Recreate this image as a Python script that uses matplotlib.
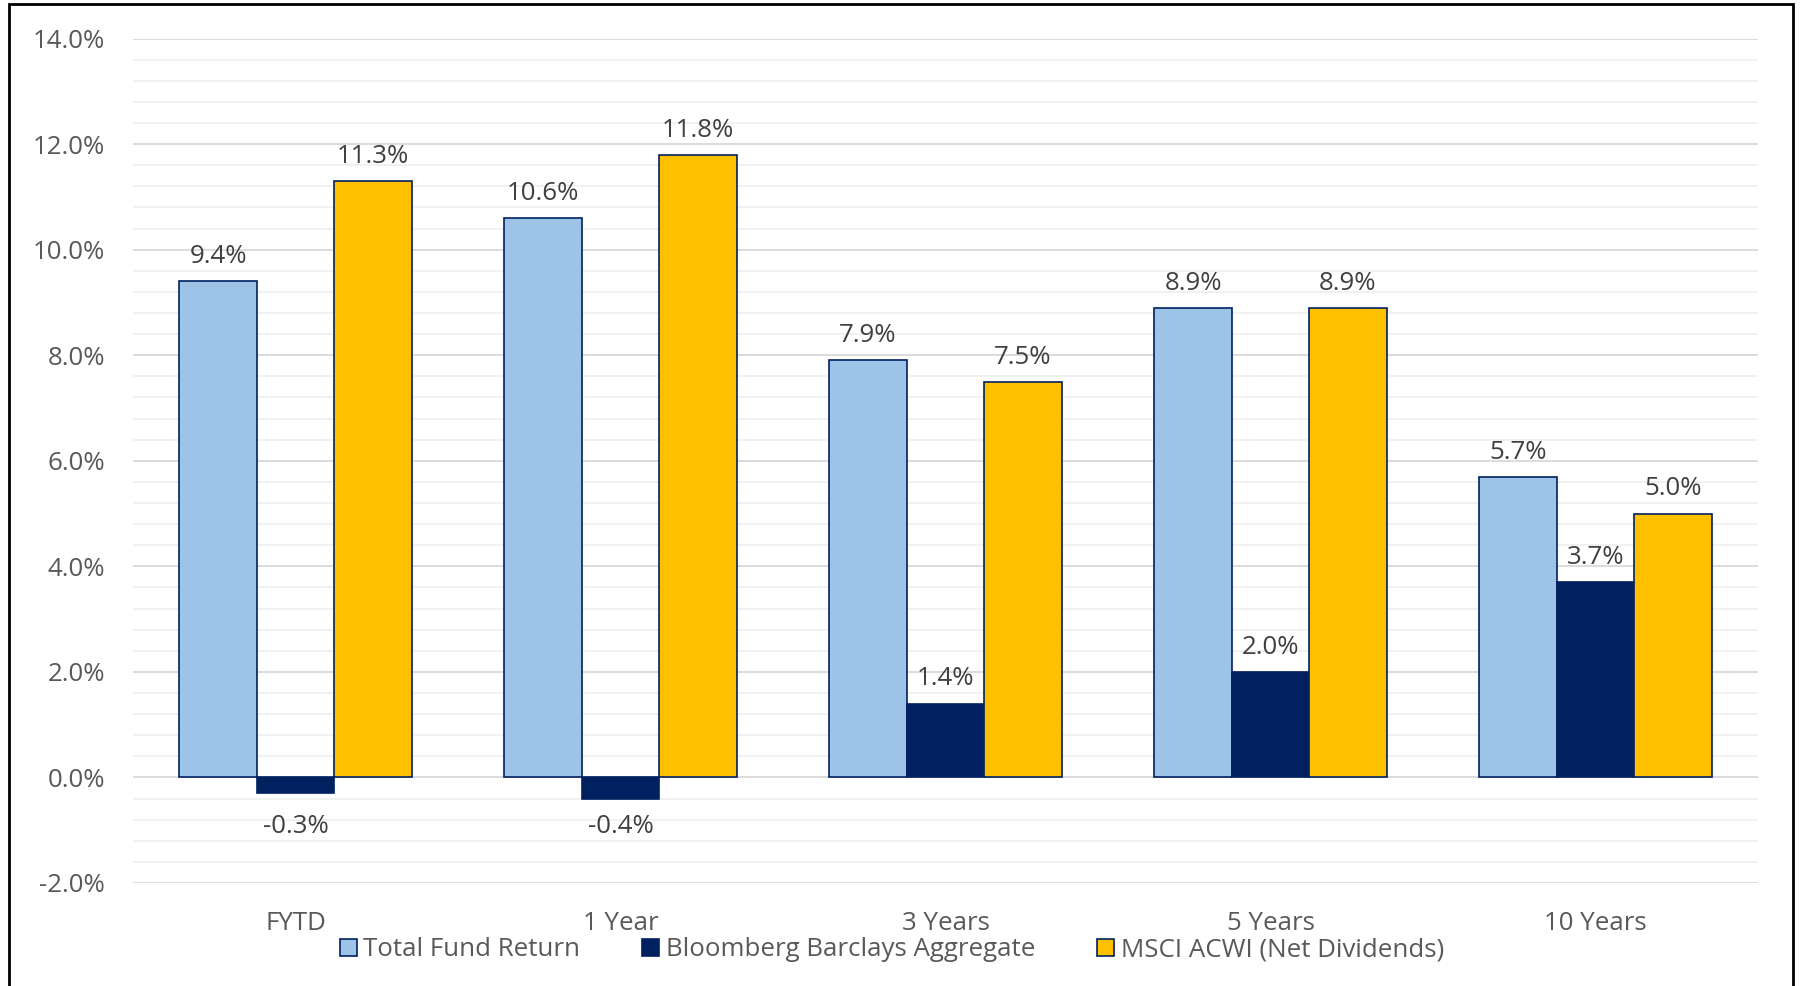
import matplotlib
matplotlib.use("Agg")
import matplotlib.pyplot as plt
import numpy as np
from matplotlib.patches import Rectangle, Patch
from matplotlib.ticker import MultipleLocator, FuncFormatter

categories = ["FYTD", "1 Year", "3 Years", "5 Years", "10 Years"]
total_fund = [9.4, 10.6, 7.9, 8.9, 5.7]
bloomberg = [-0.3, -0.4, 1.4, 2.0, 3.7]
msci = [11.3, 11.8, 7.5, 8.9, 5.0]
series_names = ["Total Fund Return", "Bloomberg Barclays Aggregate", "MSCI ACWI (Net Dividends)"]

plt.rcParams['font.family'] = ['Open Sans', 'DejaVu Sans']

W, H = 1801, 986
FS = 18.6
fig = plt.figure(figsize=(W / 100, H / 100), dpi=100)
ax = fig.add_axes([133 / W, 1 - 883 / H, (1758 - 133) / W, (883 - 38.5) / H])

navy = "#002060"
colors = ["#9DC3E6", navy, "#FFC000"]
data = [total_fund, bloomberg, msci]
x = np.arange(len(categories))
bw = 1 / 4.2

for i, (vals, col) in enumerate(zip(data, colors)):
    pos = x + (i - 1) * bw
    ax.bar(pos, vals, width=bw, color=col, edgecolor=navy, linewidth=1.2, zorder=3)
    for px, v in zip(pos, vals):
        if v >= 0:
            ax.annotate(f"{v:.1f}%", (px, v), xytext=(0, 13), textcoords="offset points",
                        ha="center", va="baseline", fontsize=FS, color="#404040")
        else:
            ax.annotate(f"{v:.1f}%", (px, 0), xytext=(0, -40), textcoords="offset points",
                        ha="center", va="baseline", fontsize=FS, color="#404040")

ax.set_xlim(-0.5, len(categories) - 0.5)
ax.set_ylim(-2, 14)
ax.yaxis.set_major_locator(MultipleLocator(2))
ax.yaxis.set_minor_locator(MultipleLocator(0.4))
ax.yaxis.set_major_formatter(FuncFormatter(lambda v, p: f"{v:.1f}%"))
ax.grid(which="major", axis="y", color="#d9d9d9", linewidth=1.3, zorder=0)
ax.grid(which="minor", axis="y", color="#f0f0f0", linewidth=1.3, zorder=0)
ax.set_axisbelow(True)
for s in ax.spines.values():
    s.set_visible(False)
ax.set_xticks(x)
ax.set_xticklabels(categories)
ax.tick_params(axis="both", which="both", length=0)
ax.tick_params(axis="y", pad=20, labelsize=FS, labelcolor="#595959")
ax.tick_params(axis="x", pad=20, labelsize=FS, labelcolor="#595959")

handles = [Patch(facecolor=c, edgecolor=navy, linewidth=1.2) for c in colors]
fig.legend(handles, series_names, loc="center", bbox_to_anchor=(892 / W, 1 - 950 / H),
           ncol=3, frameon=False, fontsize=FS, handlelength=0.66, handleheight=0.66,
           handletextpad=0.25, columnspacing=2.4, borderpad=0, labelcolor="#595959")

fig.patches.append(Rectangle((9 / W, -0.05), (1793 - 9) / W, 1.05 - 4 / H,
                             transform=fig.transFigure, fill=False, edgecolor="black",
                             linewidth=2.0))

fig.savefig("out.png", dpi=100)
